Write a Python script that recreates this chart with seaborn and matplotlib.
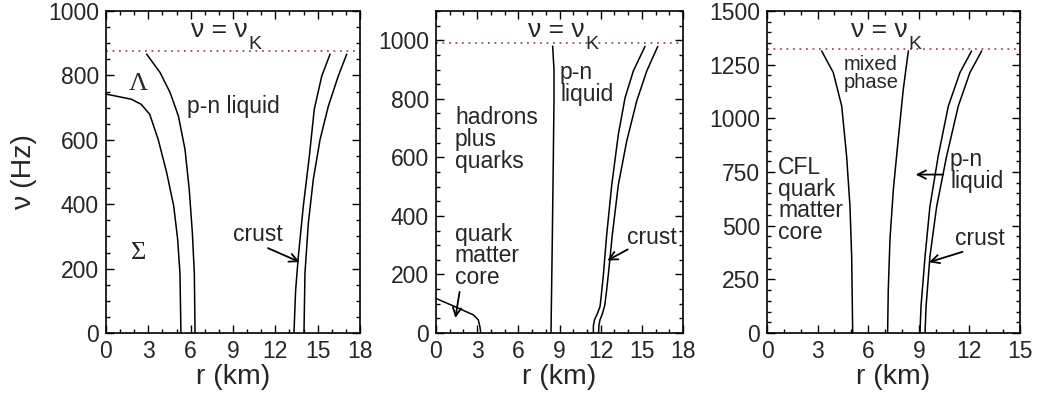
import matplotlib
matplotlib.use("Agg")
import matplotlib.pyplot as plt
import seaborn as sns
import numpy as np
import pandas as pd
from matplotlib.ticker import MultipleLocator

# ---------------- data ----------------
# Panel 1 (hyperon star)
p1_sigma_r = [0, 1.8, 2.5, 3.1, 3.7, 4.3, 4.8, 5.08, 5.24, 5.31]
p1_sigma_nu = [742, 726, 710, 679, 601, 498, 394, 290, 186, 0]
p1_lambda_r = [2.88, 3.83, 4.54, 5.13, 5.60, 5.90, 6.12, 6.26, 6.31]
p1_lambda_nu = [866, 809, 747, 674, 570, 445, 311, 186, 0]
p1_crust_in_r = [15.88, 15.29, 14.76, 14.41, 13.98, 13.63, 13.44, 13.32]
p1_crust_in_nu = [866, 798, 695, 549, 393, 238, 134, 0]
p1_surf_r = [17.06, 16.46, 15.76, 15.17, 14.69, 14.34, 14.10, 14.03]
p1_surf_nu = [866, 798, 705, 601, 477, 342, 186, 0]

# Panel 2 (hybrid star)
p2_core_r = [0, 1.38, 2.72, 3.08, 3.2, 3.26]
p2_core_nu = [118, 90, 62, 45, 22, 0]
p2_mixed_r = [8.5, 8.6, 8.6, 8.55, 8.47, 8.38]
p2_mixed_nu = [980, 900, 800, 600, 300, 0]
p2_crust_in_r = [11.47, 11.47, 11.55, 11.75, 11.95, 12.05, 12.2, 12.44, 12.81, 13.29, 13.78, 14.38, 15.23]
p2_crust_in_nu = [0, 25, 45, 65, 90, 130, 200, 336, 507, 679, 804, 895, 979]
p2_surf_r = [11.85, 11.87, 11.95, 12.12, 12.3, 12.42, 12.56, 12.85, 13.29, 13.9, 14.63, 15.36, 16.16]
p2_surf_nu = [0, 25, 45, 65, 95, 140, 200, 336, 507, 656, 793, 895, 979]

# Panel 3 (CFL star)
p3_cfl_r = [3.24, 3.93, 4.43, 4.72, 4.92, 5.02, 5.08]
p3_cfl_nu = [1314, 1213, 1057, 824, 590, 356, 0]
p3_mixed_r = [8.38, 8.08, 7.78, 7.49, 7.29, 7.19, 7.15]
p3_mixed_nu = [1314, 1135, 902, 668, 435, 201, 0]
p3_crust_in_r = [12.13, 11.44, 10.75, 10.15, 9.66, 9.37, 9.13, 9.07]
p3_crust_in_nu = [1314, 1213, 1057, 824, 590, 356, 123, 0]
p3_surf_r = [12.73, 12.03, 11.34, 10.65, 10.06, 9.66, 9.43, 9.37]
p3_surf_nu = [1314, 1213, 1057, 824, 590, 356, 123, 0]

nu_kepler = [875, 990, 1325]
x_max = [18, 18, 15]
y_max = [1000, 1100, 1500]
y_major = [200, 200, 250]

# ---------------- style ----------------
sns.set_theme(style="ticks")
plt.rcParams["font.family"] = ["Liberation Sans", "DejaVu Sans"]

fig = plt.figure(figsize=(10.37, 4.0), dpi=100)
bottom = 67 / 400
height = 322 / 400
axes = [
    fig.add_axes([106 / 1037, bottom, 254 / 1037, height]),
    fig.add_axes([436 / 1037, bottom, 247 / 1037, height]),
    fig.add_axes([767 / 1037, bottom, 253 / 1037, height]),
]

curves = [
    [(p1_sigma_r, p1_sigma_nu), (p1_lambda_r, p1_lambda_nu),
     (p1_crust_in_r, p1_crust_in_nu), (p1_surf_r, p1_surf_nu)],
    [(p2_core_r, p2_core_nu), (p2_mixed_r, p2_mixed_nu),
     (p2_crust_in_r, p2_crust_in_nu), (p2_surf_r, p2_surf_nu)],
    [(p3_cfl_r, p3_cfl_nu), (p3_mixed_r, p3_mixed_nu),
     (p3_crust_in_r, p3_crust_in_nu), (p3_surf_r, p3_surf_nu)],
]

TICK = 16.5
LAB = 20.5
ANN = 16.5
kep_x = [0.445, 0.486, 0.443]

for i, ax in enumerate(axes):
    for r, nu in curves[i]:
        df = pd.DataFrame({"r": r, "nu": nu})
        sns.lineplot(data=df, x="r", y="nu", sort=False, estimator=None,
                     color="black", linewidth=1.1, ax=ax)
    ax.axhline(nu_kepler[i], color="#9a4a86", linestyle=(0, (1, 2.6)), linewidth=1.3)
    ax.set_xlim(0, x_max[i])
    ax.set_ylim(0, y_max[i])
    ax.xaxis.set_major_locator(MultipleLocator(3))
    ax.xaxis.set_minor_locator(MultipleLocator(1))
    ax.yaxis.set_major_locator(MultipleLocator(y_major[i]))
    ax.yaxis.set_minor_locator(MultipleLocator(50))
    ax.tick_params(which="both", direction="in", top=True, right=True,
                   labelsize=TICK, color="black", width=1.0)
    ax.tick_params(which="major", length=6, pad=5)
    ax.tick_params(which="minor", length=3)
    for s in ax.spines.values():
        s.set_linewidth(1.2)
        s.set_color("black")
    ax.set_xlabel("r (km)", fontsize=LAB, labelpad=1)
    ax.set_ylabel("")
    t = ax.text(kep_x[i], 0.919, "ν = ν", transform=ax.transAxes,
                ha="center", va="baseline", fontsize=19)
    ax.annotate("K", xy=(1, 0), xycoords=t, xytext=(0.5, -5), textcoords="offset points",
                ha="left", va="baseline", fontsize=14)

axes[0].set_ylabel("ν (Hz)", fontsize=LAB, labelpad=8)

arrow_kw = dict(arrowstyle="->,head_length=0.5,head_width=0.25", color="black", lw=1.3)

# Panel 1 annotations
a = axes[0]
a.text(2.3, 773, "Λ", fontsize=19, family=["Liberation Serif"], ha="center", va="center")
a.text(2.3, 248, "Σ", fontsize=19, family=["Liberation Serif"], ha="center", va="center")
a.text(5.74, 704, "p-n liquid", fontsize=ANN, ha="left", va="center")
a.text(9.0, 305, "crust", fontsize=ANN, ha="left", va="center")
a.annotate("", xy=(13.9, 217), xytext=(11.3, 267), arrowprops=arrow_kw)

# Panel 2 annotations
a = axes[1]
a.text(1.38, 661, "hadrons\nplus\nquarks", fontsize=ANN, ha="left", va="center", linespacing=0.92)
a.text(1.38, 264, "quark\nmatter\ncore", fontsize=ANN, ha="left", va="center", linespacing=0.92)
a.annotate("", xy=(1.38, 42), xytext=(1.75, 150), arrowprops=arrow_kw)
a.text(9.04, 853, "p-n\nliquid", fontsize=ANN, ha="left", va="center", linespacing=0.92)
a.text(13.9, 325, "crust", fontsize=ANN, ha="left", va="center")
a.annotate("", xy=(12.3, 243), xytext=(14.15, 290), arrowprops=arrow_kw)

# Panel 3 annotations
a = axes[2]
a.text(4.55, 1210, "mixed\nphase", fontsize=14.5, ha="left", va="center", linespacing=0.92)
a.text(0.67, 620, "CFL\nquark\nmatter\ncore", fontsize=ANN, ha="left", va="center", linespacing=0.92)
a.text(10.85, 757, "p-n\nliquid", fontsize=ANN, ha="left", va="center", linespacing=0.92)
a.annotate("", xy=(8.65, 738), xytext=(10.6, 738), arrowprops=arrow_kw)
a.text(11.15, 442, "crust", fontsize=ANN, ha="left", va="center")
a.annotate("", xy=(9.45, 326), xytext=(11.75, 382), arrowprops=arrow_kw)

fig.savefig("out.png", dpi=100)
